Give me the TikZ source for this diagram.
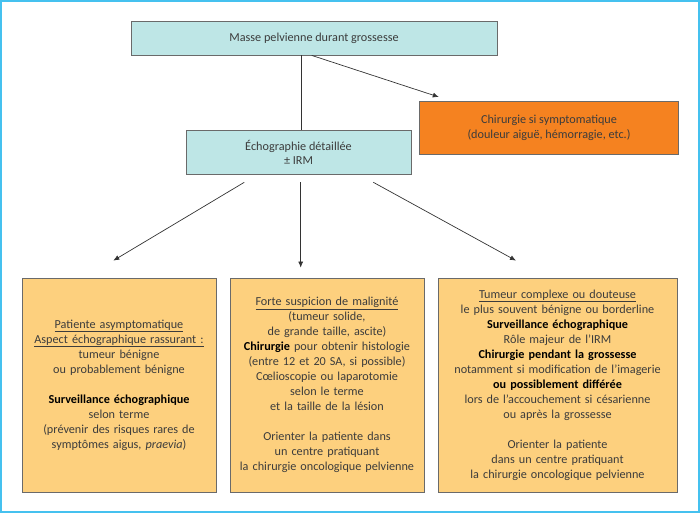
\documentclass[tikz,border=0pt]{standalone}
\usepackage{fontspec}
\setmainfont{Carlito}
\usepackage{xcolor}
\usepackage{tikz}
\usetikzlibrary{arrows.meta}

\definecolor{cadre}{HTML}{45C1EF}
\definecolor{bleuclair}{HTML}{BEE6E6}
\definecolor{orangefort}{HTML}{F58220}
\definecolor{orangeclair}{HTML}{FDD07E}
\definecolor{trait}{HTML}{6A6A6A}
\definecolor{texte}{HTML}{3C3C3C}

\begin{document}
\begin{tikzpicture}[x=1pt, y=-1pt,
    boite/.style={draw=trait, line width=0.8pt, align=center, text=texte,
        font=\fontsize{12.2}{15}\selectfont, inner sep=0pt},
    fleche/.style={draw=black!80, line width=0.7pt, -{Latex[length=6pt,width=5pt]}},
    ligne/.style={draw=black!80, line width=0.7pt}]
                    \useasboundingbox (0,0) rectangle (700,513);
                    \draw[cadre, line width=1.6pt] (1,1) rectangle (699,512);

                    \node[boite, fill=bleuclair, minimum width=366pt, minimum height=34pt] (masse) at (314,38)
                        {Masse pelvienne durant grossesse};
                    \node[boite, fill=bleuclair, minimum width=225pt, minimum height=44pt,
                          font=\fontsize{12.2}{14}\selectfont] (echo) at (298.5,152.5)
                        {Échographie détaillée\\ ± IRM};
                    \node[boite, fill=orangefort, minimum width=259pt, minimum height=53pt] (chir) at (549,128.3)
                        {Chirurgie si symptomatique\\ (douleur aiguë, hémorragie, etc.)};

                    \node[boite, fill=orangeclair, text width=190pt, minimum width=194pt, minimum height=214pt] (asympt) at (119,385)
                        {\underline{Patiente asymptomatique}\\
                         \underline{Aspect échographique rassurant :}\\
                         tumeur bénigne\\
                         ou probablement bénigne\\[15pt]
                         \textbf{\color{black}Surveillance échographique}\\
                         selon terme\\
                         (prévenir des risques rares de\\
                         symptômes aigus, \textit{praevia})};
                    \node[boite, fill=orangeclair, text width=190pt, minimum width=194pt, minimum height=214pt] (malin) at (327,385)
                        {\underline{Forte suspicion de malignité}\\
                         (tumeur solide,\\
                         de grande taille, ascite)\\
                         \textbf{\color{black}Chirurgie} pour obtenir histologie\\
                         (entre 12 et 20 SA, si possible)\\
                         Cœlioscopie ou laparotomie\\
                         selon le terme\\
                         et la taille de la lésion\\[15pt]
                         Orienter la patiente dans\\
                         un centre pratiquant\\
                         la chirurgie oncologique pelvienne};
                    \node[boite, fill=orangeclair, text width=235pt, minimum width=239pt, minimum height=214pt] (douteuse) at (557.5,385)
                        {\underline{Tumeur complexe ou douteuse}\\
                         le plus souvent bénigne ou borderline\\
                         \textbf{\color{black}Surveillance échographique}\\
                         Rôle majeur de l’IRM\\
                         \textbf{\color{black}Chirurgie pendant la grossesse}\\
                         notamment si modification de l’imagerie\\
                         \textbf{\color{black}ou possiblement différée}\\
                         lors de l’accouchement si césarienne\\
                         ou après la grossesse\\[15pt]
                         Orienter la patiente\\
                         dans un centre pratiquant\\
                         la chirurgie oncologique pelvienne};

                    \draw[ligne] ([xshift=-12.7pt]masse.south) -- ([xshift=2.8pt]echo.north);
                    \draw[fleche] ([xshift=-2.3pt]masse.south) -- ([xshift=19.7pt,yshift=4.4pt]chir.north west);

                    \draw[fleche] ([xshift=-54.2pt,yshift=-7.4pt]echo.south) -- ([xshift=-5.7pt,yshift=17pt]asympt.north);
                    \draw[fleche] ([xshift=2.2pt,yshift=-7.4pt]echo.south) -- ([xshift=-26.3pt,yshift=10pt]malin.north);
                    \draw[fleche] ([xshift=74.8pt,yshift=-7.4pt]echo.south) -- ([xshift=-41.5pt,yshift=17pt]douteuse.north);
                \end{tikzpicture}
\end{document}
